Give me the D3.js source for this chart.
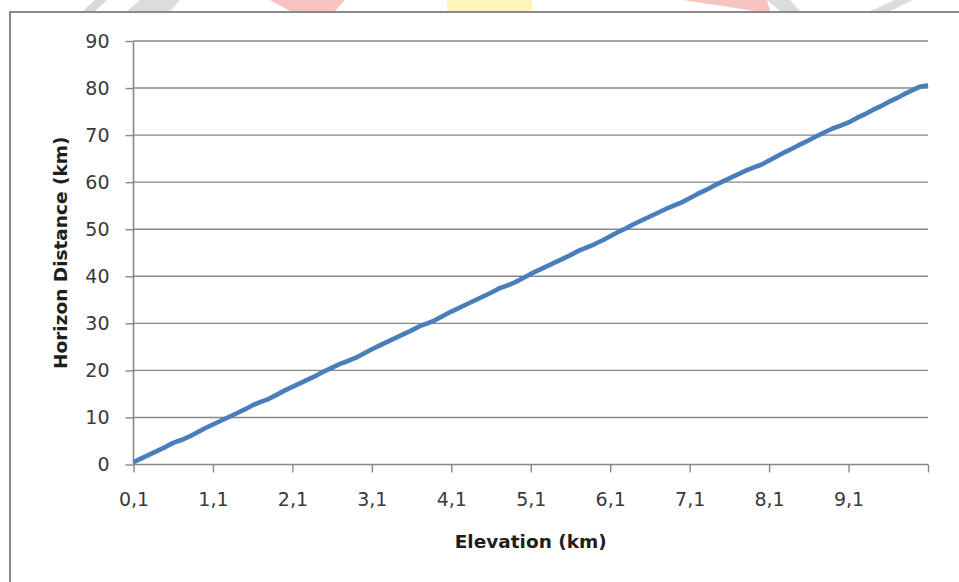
<!DOCTYPE html>
<html>
<head>
<meta charset="utf-8">
<script src="https://cdn.jsdelivr.net/npm/d3@7"></script>
<style>
  html, body { margin: 0; padding: 0; background: #ffffff; }
  svg { display: block; }
</style>
</head>
<body>
<svg id="chart" width="959" height="582"></svg>
<script>
// ---- Data ----
const elevations = [
  0.1,0.2,0.3,0.4,0.5,0.6,0.7,0.8,0.9,1.0,
  1.1,1.2,1.3,1.4,1.5,1.6,1.7,1.8,1.9,2.0,
  2.1,2.2,2.3,2.4,2.5,2.6,2.7,2.8,2.9,3.0,
  3.1,3.2,3.3,3.4,3.5,3.6,3.7,3.8,3.9,4.0,
  4.1,4.2,4.3,4.4,4.5,4.6,4.7,4.8,4.9,5.0,
  5.1,5.2,5.3,5.4,5.5,5.6,5.7,5.8,5.9,6.0,
  6.1,6.2,6.3,6.4,6.5,6.6,6.7,6.8,6.9,7.0,
  7.1,7.2,7.3,7.4,7.5,7.6,7.7,7.8,7.9,8.0,
  8.1,8.2,8.3,8.4,8.5,8.6,8.7,8.8,8.9,9.0,
  9.1,9.2,9.3,9.4,9.5,9.6,9.7,9.8,9.9,10.0,
  10.1
];
const horizonDistance = [
  0.5,1.3,2.1,2.9,3.7,4.6,5.2,5.9,6.8,7.7,
  8.5,9.3,10.1,10.9,11.7,12.6,13.3,13.9,14.8,15.7,
  16.5,17.3,18.1,18.9,19.8,20.6,21.4,22.0,22.7,23.6,
  24.5,25.3,26.1,26.9,27.7,28.5,29.4,30.0,30.7,31.6,
  32.5,33.3,34.1,34.9,35.7,36.5,37.4,38.0,38.7,39.6,
  40.5,41.3,42.1,42.9,43.7,44.5,45.4,46.1,46.8,47.6,
  48.5,49.4,50.2,51.1,51.9,52.7,53.5,54.3,55.0,55.7,
  56.6,57.5,58.3,59.2,60.0,60.8,61.6,62.4,63.1,63.7,
  64.6,65.5,66.4,67.2,68.1,68.9,69.8,70.6,71.4,72.0,
  72.7,73.6,74.4,75.3,76.1,77.0,77.8,78.7,79.5,80.3,
  80.6
];
const yTickValues = [0, 10, 20, 30, 40, 50, 60, 70, 80, 90];
const xTickIndices = [0, 10, 20, 30, 40, 50, 60, 70, 80, 90, 100];
const xLabelIndices = [0, 10, 20, 30, 40, 50, 60, 70, 80, 90];
const xTitle = "Elevation (km)";
const yTitle = "Horizon Distance (km)";

// ---- Layout ----
const svg = d3.select("#chart");
const plot = { left: 133.5, right: 928, top: 41, bottom: 464.5 };
const gridColor = "#878787";
const labelFont = "'DejaVu Sans', Verdana, sans-serif";

const catLabel = v => v.toFixed(1).replace(".", ",");
const cats = elevations.map(catLabel);

const x = d3.scalePoint().domain(cats).range([plot.left, plot.right]).padding(0);
const y = d3.scaleLinear().domain([0, 90]).range([plot.bottom, plot.top]);

// faint watermark fragments at the top edge
const wm = svg.append("g");
wm.append("polygon").attr("points", "270,0 345,0 335,11 290,11").attr("fill", "#f4b4b0").attr("opacity", 0.8);
wm.append("rect").attr("x", 447).attr("y", 0).attr("width", 85).attr("height", 11).attr("fill", "#fff4b8");
wm.append("polygon").attr("points", "683,0 767,0 770,11 755,11").attr("fill", "#f4b4b0").attr("opacity", 0.8);
wm.append("polygon").attr("points", "83,11 95,0 107,0 95,11").attr("fill", "#d8d8d8");
wm.append("polygon").attr("points", "127,11 140,0 180,0 170,11").attr("fill", "#dcdcdc");
wm.append("polygon").attr("points", "767,0 790,0 800,11 780,11").attr("fill", "#dcdcdc");
wm.append("polygon").attr("points", "870,11 895,0 913,0 890,11").attr("fill", "#dcdcdc");

// chart border (left and top visible)
svg.append("path")
  .attr("d", `M10,582 L10,12 L959,12`)
  .attr("fill", "none").attr("stroke", "#8a8a8a").attr("stroke-width", 2);

// horizontal gridlines
svg.append("g").selectAll("line").data(yTickValues.filter(v => v > 0)).join("line")
  .attr("x1", plot.left).attr("x2", plot.right)
  .attr("y1", d => y(d)).attr("y2", d => y(d))
  .attr("stroke", gridColor).attr("stroke-width", 1.4);

// y axis
const yAxis = d3.axisLeft(y).tickValues(yTickValues).tickSize(8).tickPadding(16).tickFormat(d3.format("d"));
const gy = svg.append("g").attr("transform", `translate(${plot.left},0)`).call(yAxis);
gy.select(".domain").remove();
gy.selectAll(".tick line").attr("stroke", gridColor).attr("stroke-width", 1.4);
gy.selectAll(".tick text").attr("fill", "#3a3a3a").style("font-family", labelFont).style("font-size", "19px");
svg.append("line").attr("x1", plot.left).attr("x2", plot.left).attr("y1", plot.top).attr("y2", plot.bottom)
  .attr("stroke", gridColor).attr("stroke-width", 1.6);

// x axis
const xAxis = d3.axisBottom(x)
  .tickValues(xTickIndices.map(i => cats[i]))
  .tickSize(8).tickPadding(20)
  .tickFormat(d => xLabelIndices.map(i => cats[i]).includes(d) ? d : "");
const gx = svg.append("g").attr("transform", `translate(0,${plot.bottom})`).call(xAxis);
gx.select(".domain").attr("stroke", gridColor).attr("stroke-width", 1.6)
  .attr("d", `M${plot.left},0H${plot.right}`);
gx.selectAll(".tick line").attr("stroke", gridColor).attr("stroke-width", 1.4);
gx.selectAll(".tick text").attr("fill", "#3a3a3a").style("font-family", labelFont).style("font-size", "19px");

// line
const line = d3.line()
  .x((d, i) => x(cats[i]))
  .y(d => y(d));
svg.append("path")
  .datum(horizonDistance)
  .attr("d", line)
  .attr("fill", "none")
  .attr("stroke", "#4A7EBB")
  .attr("stroke-width", 4.6)
  .attr("stroke-linejoin", "round");

// axis titles
svg.append("text")
  .attr("x", (plot.left + plot.right) / 2).attr("y", 548)
  .attr("text-anchor", "middle")
  .style("font-family", labelFont).style("font-weight", "bold").style("font-size", "18.5px")
  .attr("fill", "#1e1e1e")
  .text(xTitle);
svg.append("text")
  .attr("transform", `translate(67,${(plot.top + plot.bottom) / 2}) rotate(-90)`)
  .attr("text-anchor", "middle")
  .style("font-family", labelFont).style("font-weight", "bold").style("font-size", "18.5px")
  .attr("fill", "#1e1e1e")
  .text(yTitle);
</script>
</body>
</html>
